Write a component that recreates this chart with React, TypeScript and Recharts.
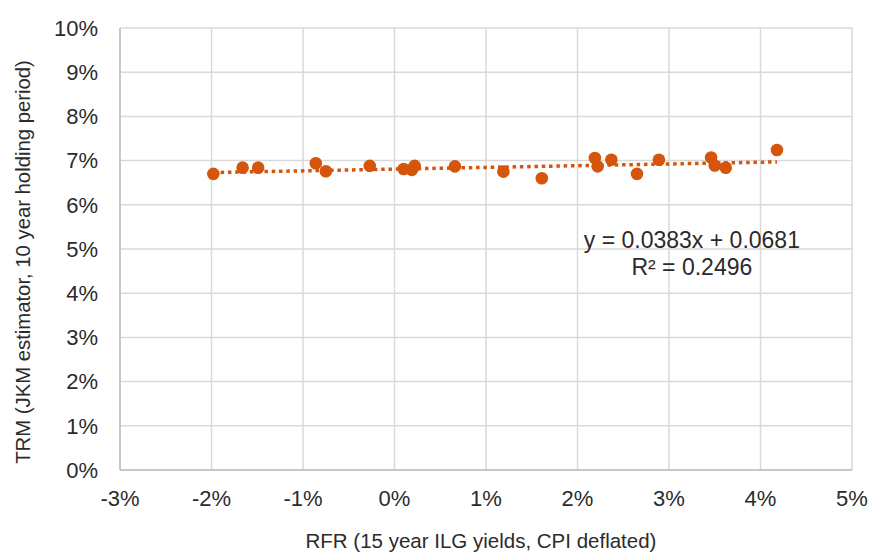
import {
  ScatterChart,
  Scatter,
  XAxis,
  YAxis,
  CartesianGrid,
  ReferenceDot,
} from "recharts";

// RFR (x, %) vs TRM (y, %)
const rfr = [
  -1.98, -1.66, -1.49, -0.86, -0.75, -0.27, 0.1, 0.19, 0.22, 0.66, 1.19,
  1.61, 2.19, 2.22, 2.37, 2.65, 2.89, 3.46, 3.5, 3.62, 4.18,
];
const trm = [
  6.7, 6.84, 6.84, 6.94, 6.76, 6.88, 6.81, 6.79, 6.88, 6.87, 6.75, 6.6, 7.06,
  6.87, 7.02, 6.7, 7.02, 7.07, 6.89, 6.84, 7.24,
];

// linear trendline end points
const trendX = [-1.98, 4.18];
const trendY = [6.73, 6.97];

const xTicks = [-3, -2, -1, 0, 1, 2, 3, 4, 5];
const yTicks = [0, 1, 2, 3, 4, 5, 6, 7, 8, 9, 10];

const eqLine1 = "y = 0.0383x + 0.0681";
const eqLine2 = "R² = 0.2496";

const points = rfr.map((x, i) => ({ x, y: trm[i] }));
const trend = trendX.map((x, i) => ({ x, y: trendY[i] }));

const FONT = '"Liberation Sans", Arial, sans-serif';
const ORANGE = "#D4550B";
const TEXT = "#2b2b2b";

const pct = (v: number) => `${v}%`;

export default function App() {
  return (
    <div
      style={{
        position: "absolute",
        left: 0,
        top: 0,
        width: 872,
        height: 552,
        background: "#fff",
        fontFamily: FONT,
      }}
    >
      <ScatterChart
        width={872}
        height={552}
        margin={{ top: 28, right: 20, bottom: 0, left: 0 }}
      >
        <CartesianGrid stroke="#D9D9D9" strokeWidth={1.5} />
        <XAxis
          type="number"
          dataKey="x"
          domain={[-3, 5]}
          ticks={xTicks}
          tickFormatter={pct}
          height={82}
          tickLine={false}
          tickSize={0}
          tickMargin={20}
          stroke="#BFBFBF"
          strokeWidth={1.5}
          tick={{ fontSize: 22, fill: TEXT, fontFamily: FONT }}
          label={{
            content: (p: any) => {
              const vb = p.viewBox;
              return (
                <text
                  x={vb.x + vb.width / 2 - 5}
                  y={548}
                  textAnchor="middle"
                  fontSize={20.5}
                  fill={TEXT}
                  fontFamily={FONT}
                >
                  RFR  (15 year ILG yields, CPI  deflated)
                </text>
              );
            },
          }}
        />
        <YAxis
          type="number"
          dataKey="y"
          domain={[0, 10]}
          ticks={yTicks}
          tickFormatter={pct}
          width={120}
          tickLine={false}
          tickSize={0}
          tickMargin={22}
          stroke="#BFBFBF"
          strokeWidth={1.5}
          tick={{ fontSize: 22, fill: TEXT, fontFamily: FONT }}
          label={{
            content: (p: any) => {
              const vb = p.viewBox;
              const cy = vb.y + vb.height / 2 + 13;
              return (
                <text
                  x={23}
                  y={cy}
                  transform={`rotate(-90, 23, ${cy})`}
                  textAnchor="middle"
                  dominantBaseline="central"
                  fontSize={20.3}
                  fill={TEXT}
                  fontFamily={FONT}
                >
                  TRM  (JKM estimator, 10 year holding period)
                </text>
              );
            },
          }}
        />
        <Scatter
          data={trend}
          isAnimationActive={false}
          legendType="none"
          line={{
            stroke: ORANGE,
            strokeWidth: 3.5,
            strokeDasharray: "3.5 3.8",
          }}
          shape={() => <g />}
        />
        <Scatter
          data={points}
          isAnimationActive={false}
          fill={ORANGE}
          shape={(p: any) => (
            <circle cx={p.cx} cy={p.cy} r={6.3} fill={ORANGE} />
          )}
        />
        <ReferenceDot
          x={3.25}
          y={5.2}
          r={0}
          stroke="none"
          label={{
            value: eqLine1,
            position: "center",
            fontSize: 23,
            fill: TEXT,
            fontFamily: FONT,
          }}
        />
        <ReferenceDot
          x={3.25}
          y={4.6}
          r={0}
          stroke="none"
          label={{
            value: eqLine2,
            position: "center",
            fontSize: 23,
            fill: TEXT,
            fontFamily: FONT,
          }}
        />
      </ScatterChart>
    </div>
  );
}
